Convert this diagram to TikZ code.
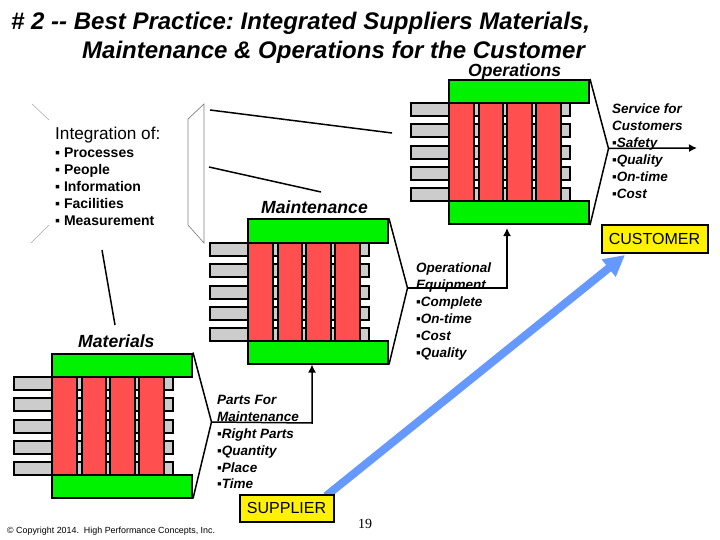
\documentclass[tikz,border=0pt]{standalone}
\usepackage{fontspec}
\setmainfont{Liberation Sans}
\usetikzlibrary{arrows.meta}
\definecolor{plant green}{rgb}{0, 0.95, 0}
\definecolor{plant red}{rgb}{1, 0.31, 0.31}
\definecolor{tab gray}{rgb}{0.8, 0.8, 0.8}
\definecolor{flow blue}{rgb}{0.4, 0.6, 1}
\tikzset{
	bar/.style = {draw, line width = 2pt, fill = plant green, minimum width = 140pt, minimum height = 23pt, inner sep = 0pt},
	tab/.style = {draw, line width = 2pt, fill = tab gray},
	column/.style = {draw, line width = 2pt, fill = plant red},
	link/.style = {line width = 1.5pt},
	feed/.style = {link, -{Latex[length = 8pt, width = 8pt]}},
	title/.style = {anchor = west, inner sep = 0pt, font = \fontsize{24}{29}\selectfont\bfseries\itshape\frenchspacing},
	heading/.style = {anchor = west, inner sep = 0pt, font = \fontsize{17.6}{20}\selectfont\bfseries\itshape},
	note/.style = {anchor = north west, inner sep = 0pt, align = left, font = \fontsize{13.5}{16.9}\selectfont\bfseries\itshape},
	party/.style = {draw, line width = 2pt, fill = yellow, inner sep = 0pt, font = \fontsize{16}{19}\selectfont}
}
% one plant block: name, left edge, top edge
\newcommand{\plant}[3]{
	\begin{scope}[shift = {(#2, #3)}]
		\foreach \y in {23, 44, 66, 87, 108} {
			\draw[tab] (-38, \y) rectangle (121, \y + 13.5);
		}
		\foreach \x/\w in {0/25, 30/24, 58/25, 87/25} {
			\draw[column] (\x, 23) rectangle (\x + \w, 121);
		}
		\node[bar] (#1 top) at (70, 11.5) {};
		\node[bar] (#1 bottom) at (70, 132.5) {};
		\coordinate (#1 tip) at (159.5, 68.5);
		\draw[link] (#1 top.north east) -- (#1 tip) -- (#1 bottom.south east);
	\end{scope}
}
\begin{document}
\begin{tikzpicture}[x = 1pt, y = -1pt]
	\useasboundingbox (0, 0) rectangle (720, 540);
	% blue arrow goes under the boxes
	\coordinate (flow start) at (326, 496);
	\coordinate (flow end) at (625, 255);
	\draw[flow blue, line width = 8pt, -{Triangle[length = 21pt, width = 21pt]}] (flow start) -- (flow end);
	% title
	\node[title] (title one) at (11, 23) {\# 2 {-}{-} Best Practice: Integrated Suppliers Materials,};
	\node[title] (title two) at (82, 52.5) {Maintenance \& Operations for the Customer};
	% the three plants
	\plant{ops}{449}{80}
	\plant{maint}{248}{219.5}
	\plant{mat}{52}{353.5}
	\node[heading] (ops name) at (468, 72) {Operations};
	\node[heading] (maint name) at (261, 207) {Maintenance};
	\node[heading] (mat name) at (78, 341) {Materials};
	% output notes
	\node[note] (ops note) at (612, 104) {Service for\\Customers\\▪Safety\\▪Quality\\▪On-time\\▪Cost};
	\node[note] (maint note) at (416, 263) {Operational\\Equipment\\▪Complete\\▪On-time\\▪Cost\\▪Quality};
	\node[note] (mat note) at (217, 395) {Parts For\\Maintenance\\▪Right Parts\\▪Quantity\\▪Place\\▪Time};
	% connectors
	\coordinate (ops out) at (697, 148);
	\draw[feed] (ops tip) -- (ops out);
	\coordinate (maint turn) at (507, 288);
	\draw[feed] (maint tip) -- (maint turn) -- (507, 228);
	\coordinate (mat turn) at (312, 423);
	\draw[feed] (mat tip) -- (mat turn) -- (maint bottom.south -| mat turn);
	% customer and supplier
	\node[party, minimum width = 106pt, minimum height = 27pt] (customer) at (654.5, 239) {CUSTOMER};
	\node[party, minimum width = 94pt, minimum height = 27pt] (supplier) at (286.5, 508) {SUPPLIER};
	% integration panel
	\node[anchor = west, inner sep = 0pt, font = \fontsize{17.2}{19}\selectfont] (panel head) at (55, 135) {Integration of:};
	\node[anchor = north west, inner sep = 0pt, align = left, font = \fontsize{14}{17}\selectfont\bfseries] (panel list) at (55, 148)
		{▪ Processes\\▪ People\\▪ Information\\▪ Facilities\\▪ Measurement};
	\draw[gray!70, line width = 0.5pt]
		(32, 104) -- (49, 120)
		(31, 243) -- (49, 225);
	\draw[gray, line width = 0.7pt] (204, 104) -- (188, 119) -- (188, 225) -- (204, 243) -- cycle;
	\draw[link] (210, 110) -- (392, 133);
	\draw[link] (209, 167) -- (321, 192);
	\draw[link] (102, 250) -- (115, 325);
	% footer
	\node[anchor = west, inner sep = 0pt, font = \fontsize{8.9}{10}\selectfont] (copyright) at (7, 531) {© Copyright 2014.\ \ High Performance Concepts, Inc.};
	\node[inner sep = 0pt, font = \fontsize{14}{16}\fontspec{Liberation Serif}] (page) at (365, 524) {19};
\end{tikzpicture}
\end{document}
